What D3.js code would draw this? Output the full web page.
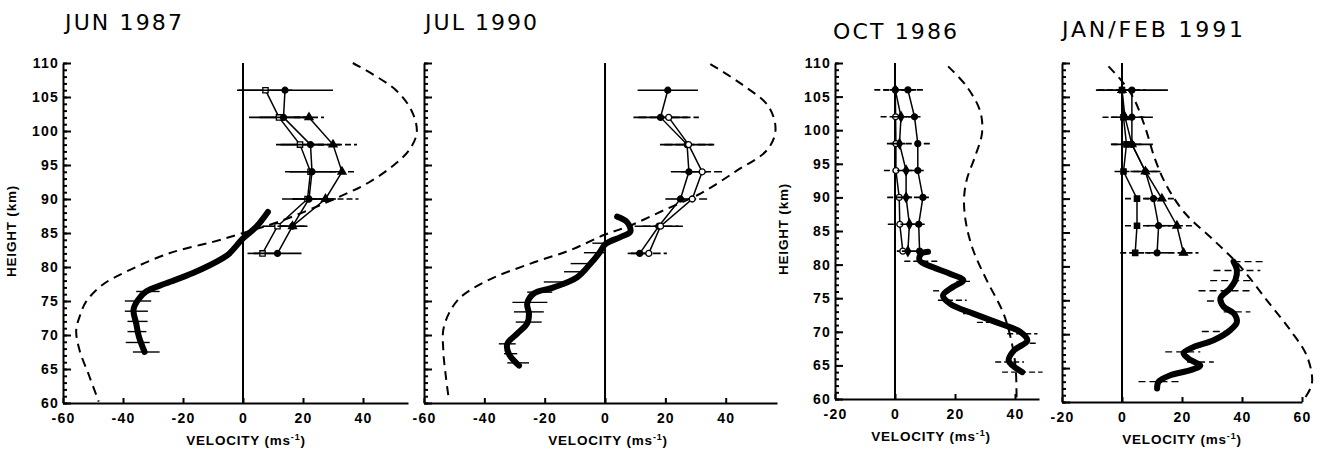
<!DOCTYPE html>
<html>
<head>
<meta charset="utf-8">
<script src="https://cdn.jsdelivr.net/npm/d3@7"></script>
<style>
body { margin: 0; background: #fff; }
svg { display: block; }
.axis path, .axis line { stroke: #000; stroke-width: 2; }
.axis .tick text { font-family: "Liberation Sans", Arial, sans-serif; font-weight: bold; font-size: 14px; fill: #000; letter-spacing: 1.2px; }
.title { font-family: "DejaVu Sans", sans-serif; font-size: 22px; fill: #000; }
.alabel { font-family: "Liberation Sans", Arial, sans-serif; font-weight: bold; font-size: 13.5px; fill: #000; letter-spacing: 0.8px; }
</style>
</head>
<body>
<svg id="chart" width="1327" height="450"></svg>
<script>
// heights (km) of the meteor-radar / MF profile points
var rowHeights = [106, 102, 98, 94, 90, 86, 82];
var yMajor = [60, 65, 70, 75, 80, 85, 90, 95, 100, 105, 110];

// ---- JUN 1987 ----
var jun87_sq = [7.5, 12, 19, 22.5, 21.5, 11.5, 6.5];
var jun87_sqErr = [9, 10, 8, 7, 5, 5, 5];
var jun87_ci = [14, 13.5, 22.5, 23, 22, 16.5, 11.5];
var jun87_ciErr = [16, 8, 10, 9, 9, 5, 8];
var jun87_tr = [null, 22, 30, 33, 27.5, 16.5, null];
var jun87_trErr = [0, 5, 8, 4, 11, 4, 0];
var jun87_thickH = [88.1, 85.9, 84.2, 82, 81.3, 79.1, 77.6, 76.4, 75.1, 73.7, 71.7, 69.75, 67.5];
var jun87_thickV = [8.3, 4.4, 0, -4.5, -6.7, -16.7, -25.6, -32.3, -35.1, -36.5, -35.6, -34.7, -32.8];
var jun87_barH = [76.4, 75, 73.5, 72, 70.5, 68.9, 67.5];
var jun87_barLo = [-35.6, -39.4, -39.4, -38.5, -38.5, -39.1, -36.7];
var jun87_barHi = [-27.8, -30.6, -31.7, -31.8, -32.2, -31.1, -27.8];
var jun87_modelH = [110, 106, 102.6, 99.7, 97.2, 95.25, 92.5, 90.3, 86.7, 85, 83.7, 82.5, 81.5, 79.3, 77.4, 74.9, 72.9, 70.7, 67.8, 63.9, 60.2];
var jun87_modelV = [36.6, 51, 56.6, 57.9, 55.4, 51, 42.2, 32, 12.2, 0, -10, -21, -27.8, -39, -46.8, -52.3, -54.3, -55.6, -54.5, -51.2, -48.1];

// ---- JUL 1990 ----
var jul90_sq = [20.8, 18.4, 27.2, 27.8, 25, 17.8, 11.5];
var jul90_sqErr = [10, 9, 9, 6, 5, 8, 4];
var jul90_ci = [null, 21.1, 27.7, 32.2, 28.9, 18.4, 14.5];
var jul90_ciErr = [0, 10, 8, 7, 5, 6, 6];
var jul90_thickH = [87.4, 86.6, 85.2, 84.4, 83.4, 82, 80.5, 78.5, 77, 76.1, 74.6, 73.1, 71.7, 70.2, 68.7, 67.25, 65.5];
var jul90_thickV = [4, 7.3, 8.4, 5.1, 0.2, -2, -4.8, -9.2, -17, -23.6, -25.8, -25.2, -25.8, -29.1, -32.4, -31.9, -28.5];
var jul90_barH = [83.5, 82.1, 80.5, 79.3, 77.8, 76.3, 74.8, 73.4, 71.9, 68.7, 67.25, 65.9];
var jul90_barLo = [-4.2, -7, -11.4, -13.6, -20.3, -25.8, -30.7, -30.2, -29.6, -35.2, -33.5, -32.4];
var jul90_barHi = [0.7, 0.2, -4.8, -7, -13.6, -17.5, -19.1, -20.3, -21, -29.6, -29.1, -25.2];
var jul90_modelH = [109.85, 107, 103.6, 100.1, 97.2, 94.2, 90.8, 88.35, 86.1, 84.7, 82.5, 80.5, 78, 75.1, 71.2, 67.7, 64.05, 60.6];
var jul90_modelV = [34.9, 44.9, 54.2, 56.5, 53.7, 43.8, 31.6, 19.5, 8.4, -0.4, -11.4, -24.7, -39, -48.9, -53.4, -53.6, -52.8, -51.8];

// ---- OCT 1986 ----
var oct86_a = [0.1, 0.2, 0.3, 0.3, 1.4, 1.6, 2.6];
var oct86_aErr = [7, 5, 3, 4, 4, 4, 2];
var oct86_b = [0.1, 2.0, 1.5, 3.7, 3.7, 4.8, 4.3];
var oct86_bErr = [4, 3, 3, 3, 3, 3, 2];
var oct86_c = [4.3, 6.5, 7.6, 7.6, 9.3, 7.9, 8.2];
var oct86_cErr = [6, 3, 4, 3, 3, 3, 2];
var oct86_thickH = [81.9, 81.6, 80.6, 79.6, 78.65, 77.65, 76.7, 75.4, 74.2, 72.7, 71.2, 69.95, 68.7, 67.2, 65.7, 64];
var oct86_thickV = [11, 8.7, 8.2, 12.7, 18.3, 22.8, 19.4, 16, 18.3, 26.1, 35.1, 41.9, 44.1, 39.6, 37.9, 42.4];
var oct86_barH = [80.5, 77.5, 76.1, 74.7, 72.7, 71.4, 69.7, 68.3, 65.5, 64];
var oct86_barLo = [3.1, 20.5, 12.7, 14.3, 22.7, 27.3, 37.4, 41.9, 33.4, 35.7];
var oct86_barHi = [14.9, 25, 15, 23.9, 28.4, 36.2, 47.5, 47.5, 43, 49.2];
var oct86_modelH = [109.5, 106.5, 102.8, 99.55, 96.1, 92.6, 89.6, 86.1, 82.1, 77.65, 72.7, 68.2, 64.7, 61.2, 60];
var oct86_modelV = [17.7, 23.9, 28.4, 29, 26.7, 23.9, 23, 23.7, 26.1, 30.6, 36.2, 39, 40.2, 40.5, 40.5];

// ---- JAN/FEB 1991 ----
var jan91_a = [0, 0.5, 1.5, 0.5, 5, 5, 4.4];
var jan91_aErr = [8, 7, 5, 3, 4, 4, 5];
var jan91_b = [3.3, 3.3, 3.3, 7.8, 10.5, 12.2, 11.7];
var jan91_bErr = [12, 7, 7, 5, 3, 4, 4];
var jan91_c = [0, 1, 3.3, 7.8, 13.3, 18.3, 20.5];
var jan91_cErr = [2, 2, 2, 4, 4, 6, 5];
var jan91_thickH = [80.7, 79.5, 78, 76.8, 75.3, 74.05, 73.1, 71.8, 70.6, 69.1, 68.1, 67.2, 66.2, 65.4, 64.7, 63.95, 63, 62];
var jan91_thickV = [37.2, 38.3, 37.8, 36.1, 32.8, 33.9, 37.2, 38.3, 36.1, 30.5, 23.9, 20.5, 22.8, 26.1, 22.8, 16.1, 12.2, 11.7];
var jan91_barH = [80.7, 79.4, 77.9, 76.4, 74.9, 73.3, 70.4, 67.4, 65.9, 63];
var jan91_barLo = [37.2, 30.5, 29.4, 25.5, 28.3, 33.9, 26.6, 14.4, 21.7, 5.5];
var jan91_barHi = [47.2, 46.1, 43.9, 42.8, 33.9, 42.8, 36.1, 26.1, 30.6, 19.4];
var jan91_modelH = [109.5, 107.3, 104.8, 100.4, 95.7, 91.8, 87.8, 83.9, 80, 75, 70.6, 66.7, 62.7, 60.3];
var jan91_modelV = [-4.5, 0, 3.9, 7.8, 11.1, 15, 21.1, 30.5, 39.4, 48.3, 56.1, 61.7, 63.3, 60.5];

var panels = [
    {
        title: "JUN 1987", titleX: 65, titleY: 30, titleW: 117,
        xDomain: [-60, 55], xRange: [63, 408], yRange: [403, 63],
        xTicks: [-60, -40, -20, 0, 20, 40], yLabels: true, labelV: 1, barDash: null,
        profiles: [
            { vals: jun87_sq, err: jun87_sqErr, sym: d3.symbolSquare, fill: "#fff", dash: null },
            { vals: jun87_ci, err: jun87_ciErr, sym: d3.symbolCircle, fill: "#000", dash: null },
            { vals: jun87_tr, err: jun87_trErr, sym: d3.symbolTriangle, fill: "#000", dash: "6,3" }
        ],
        thickH: jun87_thickH, thickV: jun87_thickV,
        barH: jun87_barH, barLo: jun87_barLo, barHi: jun87_barHi,
        modelH: jun87_modelH, modelV: jun87_modelV
    },
    {
        title: "JUL 1990", titleX: 425, titleY: 30, titleW: 112,
        xDomain: [-60, 57], xRange: [424, 777], yRange: [403, 63],
        xTicks: [-60, -40, -20, 0, 20, 40], yLabels: false, labelV: 1, barDash: null,
        profiles: [
            { vals: jul90_sq, err: jul90_sqErr, sym: d3.symbolCircle, fill: "#000", dash: null },
            { vals: jul90_ci, err: jul90_ciErr, sym: d3.symbolCircle, fill: "#fff", dash: "8,3" }
        ],
        thickH: jul90_thickH, thickV: jul90_thickV,
        barH: jul90_barH, barLo: jul90_barLo, barHi: jul90_barHi,
        modelH: jul90_modelH, modelV: jul90_modelV
    },
    {
        title: "OCT 1986", titleX: 833, titleY: 39, titleW: 124,
        xDomain: [-20, 48], xRange: [835, 1039], yRange: [399, 63],
        xTicks: [-20, 0, 20, 40], yLabels: true, labelV: 12, barDash: "6,3",
        profiles: [
            { vals: oct86_a, err: oct86_aErr, sym: d3.symbolCircle, fill: "#fff", dash: "6,3" },
            { vals: oct86_b, err: oct86_bErr, sym: d3.symbolDiamond, fill: "#000", dash: "6,3" },
            { vals: oct86_c, err: oct86_cErr, sym: d3.symbolCircle, fill: "#000", dash: "6,3" }
        ],
        thickH: oct86_thickH, thickV: oct86_thickV,
        barH: oct86_barH, barLo: oct86_barLo, barHi: oct86_barHi,
        modelH: oct86_modelH, modelV: oct86_modelV
    },
    {
        title: "JAN/FEB 1991", titleX: 1062, titleY: 37, titleW: 181,
        xDomain: [-20, 60], xRange: [1062, 1302], yRange: [402, 63],
        xTicks: [-20, 0, 20, 40, 60], yLabels: false, labelV: 20, barDash: "7,4",
        profiles: [
            { vals: jan91_a, err: jan91_aErr, sym: d3.symbolSquare, fill: "#000", dash: "6,3" },
            { vals: jan91_b, err: jan91_bErr, sym: d3.symbolCircle, fill: "#000", dash: null },
            { vals: jan91_c, err: jan91_cErr, sym: d3.symbolTriangle, fill: "#000", dash: "6,3" }
        ],
        thickH: jan91_thickH, thickV: jan91_thickV,
        barH: jan91_barH, barLo: jan91_barLo, barHi: jan91_barHi,
        modelH: jan91_modelH, modelV: jan91_modelV
    }
];

var svg = d3.select("#chart");

function zipHV(hs, vs) {
    return hs.map(function (h, i) { return { h: h, v: vs[i] }; });
}

function drawPanel(p) {
    var x = d3.scaleLinear().domain(p.xDomain).range(p.xRange);
    var y = d3.scaleLinear().domain([60, 110]).range(p.yRange);
    var g = svg.append("g");

    // y axis: minor ticks every km, major every 5 km (ticks point inward)
    g.append("g")
        .attr("class", "axis")
        .attr("transform", `translate(${p.xRange[0]},0)`)
        .call(d3.axisLeft(y).tickValues(d3.range(60, 111, 1)).tickSize(-4).tickFormat(""))
        .call(a => a.select(".domain").remove());

    g.append("g")
        .attr("class", "axis")
        .attr("transform", `translate(${p.xRange[0]},0)`)
        .call(d3.axisLeft(y).tickValues(yMajor).tickSizeInner(-8).tickSizeOuter(0)
            .tickPadding(4).tickFormat(p.yLabels ? d => String(d) : ""));

    g.append("g")
        .attr("class", "axis")
        .attr("transform", `translate(0,${p.yRange[0]})`)
        .call(d3.axisBottom(x).tickValues(p.xTicks).tickSizeInner(-5).tickSizeOuter(0)
            .tickPadding(10).tickFormat(d => String(d)));

    // zero line
    g.append("line")
        .attr("x1", x(0)).attr("x2", x(0))
        .attr("y1", y(110)).attr("y2", y(60))
        .attr("stroke", "#000").attr("stroke-width", 2);

    // model (dashed)
    var curve = d3.line().x(d => x(d.v)).y(d => y(d.h)).curve(d3.curveCatmullRom.alpha(0.5));
    g.append("path")
        .datum(zipHV(p.modelH, p.modelV))
        .attr("d", curve)
        .attr("fill", "none").attr("stroke", "#000")
        .attr("stroke-width", 2).attr("stroke-dasharray", "9,6");

    // error bars on the thick profile
    g.selectAll(".tbar")
        .data(p.barH.map((h, i) => ({ h: h, lo: p.barLo[i], hi: p.barHi[i] })))
        .enter().append("line")
        .attr("x1", d => x(d.lo)).attr("x2", d => x(d.hi))
        .attr("y1", d => y(d.h)).attr("y2", d => y(d.h))
        .attr("stroke", "#000").attr("stroke-width", 1.4)
        .attr("stroke-dasharray", p.barDash);

    // thick profile
    g.append("path")
        .datum(zipHV(p.thickH, p.thickV))
        .attr("d", curve)
        .attr("fill", "none").attr("stroke", "#000")
        .attr("stroke-width", 6).attr("stroke-linecap", "round").attr("stroke-linejoin", "round");

    // point profiles with error bars
    var straight = d3.line().x(d => x(d.v)).y(d => y(d.h));
    p.profiles.forEach(function (pr) {
        var pts = rowHeights.map((h, i) => ({ h: h, v: pr.vals[i], e: pr.err[i] }))
            .filter(d => d.v != null);

        g.selectAll(null)
            .data(pts.filter(d => d.e > 0))
            .enter().append("line")
            .attr("x1", d => x(d.v - d.e)).attr("x2", d => x(d.v + d.e))
            .attr("y1", d => y(d.h)).attr("y2", d => y(d.h))
            .attr("stroke", "#000").attr("stroke-width", 1.6)
            .attr("stroke-dasharray", pr.dash);

        g.append("path")
            .datum(pts)
            .attr("d", straight)
            .attr("fill", "none").attr("stroke", "#000").attr("stroke-width", 1.5);

        g.selectAll(null)
            .data(pts)
            .enter().append("path")
            .attr("transform", d => `translate(${x(d.v)},${y(d.h)})`)
            .attr("d", d3.symbol().type(pr.sym).size(28))
            .attr("fill", pr.fill).attr("stroke", "#000").attr("stroke-width", 1.3);
    });

    // title
    g.append("text")
        .attr("class", "title")
        .attr("x", p.titleX).attr("y", p.titleY)
        .attr("textLength", p.titleW).attr("lengthAdjust", "spacing")
        .text(p.title);

    // x label
    var xl = g.append("text")
        .attr("class", "alabel")
        .attr("x", x(p.labelV)).attr("y", p.yRange[0] + 42)
        .attr("text-anchor", "middle");
    xl.append("tspan").text("VELOCITY (ms");
    xl.append("tspan").attr("font-size", "9px").attr("dy", -5).text("-1");
    xl.append("tspan").attr("dy", 5).text(")");

    // y label
    if (p.yLabels) {
        g.append("text")
            .attr("class", "alabel")
            .attr("transform", `translate(${p.xRange[0] - 47},${y(85.3)}) rotate(-90)`)
            .attr("text-anchor", "middle")
            .text("HEIGHT (km)");
    }
}

panels.forEach(drawPanel);
</script>
</body>
</html>
